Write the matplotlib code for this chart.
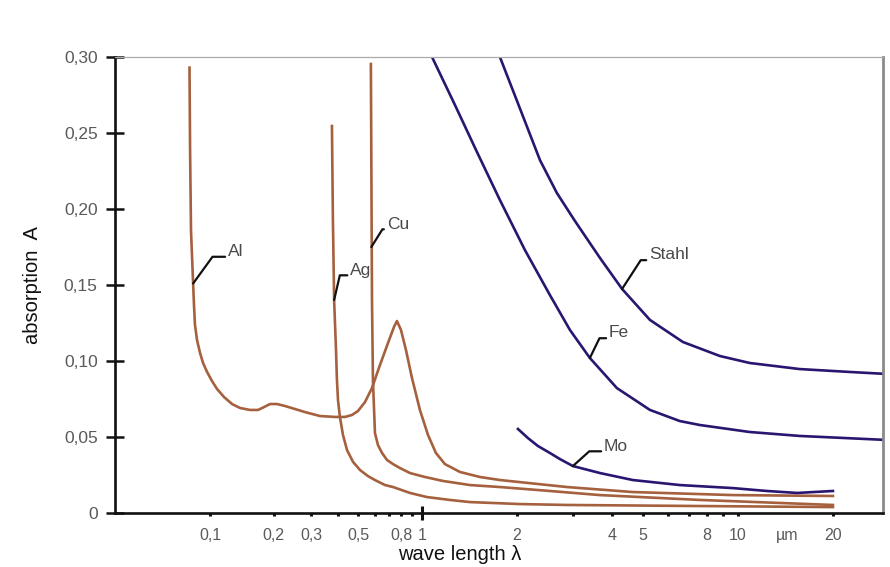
import numpy as np
import matplotlib
matplotlib.use("Agg")
import matplotlib.pyplot as plt

plt.rcParams['font.family'] = ['Liberation Sans', 'DejaVu Sans']

# wave length in µm, absorption A
al_x = [0.080, 0.0805, 0.0813, 0.0832, 0.0840, 0.0849, 0.0868, 0.0897, 0.0927, 0.0968, 0.1022,
        0.1079, 0.1164, 0.1270, 0.1385, 0.1544, 0.1684, 0.1798, 0.1919, 0.2070, 0.2258, 0.2518,
        0.2806, 0.3303, 0.3888, 0.4333, 0.4675, 0.4990, 0.5384, 0.5808, 0.6337, 0.6912, 0.7378,
        0.762, 0.7962, 0.8405, 0.8972, 0.978, 1.045, 1.107, 1.182, 1.319, 1.526, 1.765, 2.876,
        4.65, 9.64, 20]
al_y = [0.293, 0.239, 0.186, 0.151, 0.1368, 0.1237, 0.1138, 0.1053, 0.0987, 0.0928, 0.0868,
        0.0816, 0.0763, 0.0717, 0.0691, 0.0678, 0.0678, 0.0697, 0.0717, 0.0717, 0.0704, 0.0684,
        0.0664, 0.0638, 0.0632, 0.0632, 0.0645, 0.0671, 0.0730, 0.0822, 0.0974, 0.1118, 0.1224,
        0.1263, 0.1204, 0.1072, 0.0888, 0.0678, 0.0513, 0.0395, 0.0322, 0.0270, 0.0237, 0.0217,
        0.0171, 0.0138, 0.0118, 0.0112]

ag_x = [0.376, 0.380, 0.385, 0.393, 0.397, 0.4016, 0.410, 0.424, 0.443, 0.473, 0.510, 0.556,
        0.600, 0.669, 0.730, 0.878, 1.037, 1.226, 1.419, 2.04, 2.876, 7.58, 20]
ag_y = [0.2546, 0.1928, 0.1401, 0.1072, 0.0875, 0.0743, 0.0632, 0.0513, 0.0414, 0.0336, 0.0283,
        0.0243, 0.0217, 0.0184, 0.0171, 0.0132, 0.0105, 0.0086, 0.0072, 0.0059, 0.0053, 0.0046,
        0.0039]

cu_x = [0.574, 0.581, 0.587, 0.600, 0.620, 0.648, 0.684, 0.730, 0.787, 0.878, 1.022, 1.165,
        1.419, 1.765, 2.541, 3.66, 7.58, 20]
cu_y = [0.2954, 0.1401, 0.0875, 0.0526, 0.0447, 0.0395, 0.0349, 0.0322, 0.0296, 0.0263, 0.0237,
        0.0211, 0.0184, 0.0171, 0.0145, 0.0118, 0.0086, 0.0053]

mo_x = [2.013, 2.165, 2.328, 2.541, 2.733, 3.005, 3.66, 4.65, 6.55, 9.64, 12.35, 15.4, 20]
mo_y = [0.0553, 0.0493, 0.0441, 0.0395, 0.0355, 0.0309, 0.0263, 0.0217, 0.0184, 0.0164, 0.0145,
        0.0132, 0.0145]

fe_x = [1.076, 1.272, 1.493, 1.765, 2.118, 2.541, 2.941, 3.40, 4.14, 5.27, 6.55, 7.58, 10.9, 15.7, 30]
fe_y = [0.300, 0.2684, 0.2375, 0.2059, 0.1730, 0.1434, 0.1204, 0.1020, 0.0822, 0.0678, 0.0605,
        0.0579, 0.0533, 0.0507, 0.048]

stahl_x = [1.765, 2.04, 2.363, 2.674, 3.05, 3.66, 4.30, 5.27, 6.70, 8.77, 10.9, 15.7, 22.6, 30]
stahl_y = [0.300, 0.2664, 0.2322, 0.2105, 0.1921, 0.1678, 0.1474, 0.1270, 0.1125, 0.1033, 0.0987,
           0.0947, 0.0928, 0.0914]

major_ticks = [0.1, 0.2, 0.3, 0.5, 0.8, 1, 2, 4, 5, 8, 10, 14.3, 20]
major_labels = ['0,1', '0,2', '0,3', '0,5', '0,8', '1', '2', '4', '5', '8', '10', 'µm', '20']
minor_ticks = [0.4, 0.6, 0.7, 0.9, 3, 6, 7, 9]
y_ticks = [0, 0.05, 0.10, 0.15, 0.20, 0.25, 0.30]
y_labels = ['0', '0,05', '0,10', '0,15', '0,20', '0,25', '0,30']

BROWN = '#a5603e'
NAVY = '#2a1670'
SUB = 212 / 316  # the axis below 1 µm is squeezed


def fwd(x):
    l = np.log10(np.clip(np.asarray(x, float), 1e-6, None))
    return np.where(l < 0, l * SUB, l)


def inv(t):
    t = np.asarray(t, float)
    return np.where(t < 0, 10 ** (t / SUB), 10 ** t)


fig = plt.figure(figsize=(8.9, 5.67), dpi=100)
ax = fig.add_axes([0.1292, 0.0952, 0.8629, 0.8043])
ax.set_xscale('function', functions=(fwd, inv))
ax.set_xlim(0.0356, 28.8)
ax.set_ylim(0, 0.30)

for xs, ys, c in [(al_x, al_y, BROWN), (ag_x, ag_y, BROWN), (cu_x, cu_y, BROWN),
                  (mo_x, mo_y, NAVY), (fe_x, fe_y, NAVY), (stahl_x, stahl_y, NAVY)]:
    ax.plot(xs, ys, color=c, lw=1.9, solid_joinstyle='round')

# labels with leader lines
labels = [('Al', (al_x[3], al_y[3]), (25, 23), 54),
          ('Ag', (ag_x[2], ag_y[2]), (11.5, 21.6), 77),
          ('Cu', (0.577, 0.175), (11, 16.5), 58),
          ('Stahl', (stahl_x[6], stahl_y[6]), (19.4, 24.5), 57),
          ('Fe', (fe_x[7], fe_y[7]), (13.7, 18), 64),
          ('Mo', (mo_x[5], mo_y[5]), (22.3, 14.4), 42)]
for name, xy, off, ang in labels:
    ax.annotate(name, xy=xy, xytext=off, textcoords='offset points', ha='left', va='center',
                fontsize=12.5, color='#4a4a4a',
                arrowprops=dict(arrowstyle='-', color='#111111', lw=1.6, shrinkA=0, shrinkB=0,
                                relpos=(0, 0.15),
                                connectionstyle=f'angle,angleA=0,angleB={ang},rad=0'))

ax.set_xticks(major_ticks, major_labels)
ax.set_xticks(minor_ticks, minor=True)
ax.set_yticks(y_ticks, y_labels)
ax.tick_params(axis='x', which='both', direction='out', length=2.5, width=2.2, color='#111111',
               labelsize=11.5, labelcolor='#5a5a5a', pad=8)
ax.tick_params(axis='y', direction='inout', length=13, width=1.8, color='#111111',
               labelsize=12.5, labelcolor='#5a5a5a', pad=6)
xt = ax.xaxis.get_major_ticks()
xt[11].tick1line.set_visible(False)
xt[5].tick1line.set_marker('|')
xt[5].tick1line.set_markersize(10)
xt[5].tick1line.set_markeredgewidth(2.2)

for s in ['left', 'bottom']:
    ax.spines[s].set_linewidth(1.9)
    ax.spines[s].set_color('#111111')
ax.spines['top'].set_color('#aaaaaa')
ax.spines['top'].set_linewidth(0.9)
ax.spines['right'].set_color('#8a8a8a')
ax.spines['right'].set_linewidth(2.0)

ax.set_ylabel('absorption  A', fontsize=14.5, color='#111111')
ax.yaxis.set_label_coords(-0.095, 0.5)
ax.set_xlabel('wave length λ', fontsize=14.5, color='#111111')
ax.xaxis.set_label_coords(0.449, -0.071)

fig.savefig('out.png', dpi=100)
